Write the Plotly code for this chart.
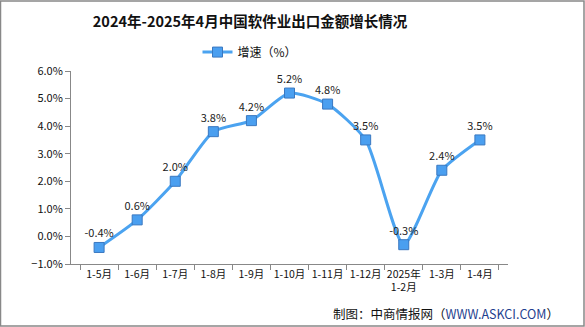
import plotly.graph_objects as go

categories = ["1-5月", "1-6月", "1-7月", "1-8月", "1-9月", "1-10月", "1-11月", "1-12月", "2025年<br>1-2月", "1-3月", "1-4月"]
growth = [-0.4, 0.6, 2.0, 3.8, 4.2, 5.2, 4.8, 3.5, -0.3, 2.4, 3.5]
labels = [f"{v:.1f}%" for v in growth]

FONT = "Noto Sans CJK SC"
fig = go.Figure()
fig.add_trace(go.Scatter(
    x=categories, y=growth, mode="lines+markers+text",
    name="增速（%）",
    line=dict(color="#4ba3f0", width=3, shape="spline", smoothing=0.6),
    marker=dict(symbol="square", size=10, color="#4a9ff0", line=dict(color="#3a78c0", width=1)),
    text=labels, textposition="top center",
    textfont=dict(family=FONT, size=11, color="#222"),
    cliponaxis=False,
))
fig.update_layout(
    width=585, height=327,
    margin=dict(l=71, r=77, t=71, b=63),
    paper_bgcolor="white", plot_bgcolor="white",
    title=dict(text="<b>2024年-2025年4月中国软件业出口金额增长情况</b>", x=250/585, xanchor="center",
               y=0.933, yanchor="middle", font=dict(family=FONT, size=14.5, color="#111")),
    showlegend=True,
    legend=dict(orientation="h", x=(250-71)/437, xanchor="center", y=1.098, yanchor="middle",
                font=dict(family=FONT, size=12, color="#111"), bgcolor="rgba(0,0,0,0)"),
    xaxis=dict(type="category", tickson="boundaries", ticks="outside", ticklen=5, tickangle=0,
               tickcolor="#888", showline=True, linecolor="#888", linewidth=1,
               showgrid=False, tickfont=dict(family=FONT, size=10.5, color="#111")),
    yaxis=dict(range=[-1, 6], dtick=1, tickformat=".1f", ticksuffix="%", ticks="outside",
               ticklen=5, tickcolor="#888", showline=True, linecolor="#888", linewidth=1,
               showgrid=False, zeroline=False, tickfont=dict(family=FONT, size=11, color="#111")),
    shapes=[dict(type="rect", xref="paper", yref="paper", x0=-70.5/437, x1=1+76/437,
                 y0=-62/193, y1=1+70/193, line=dict(color="#888", width=1.5))],
    annotations=[dict(text="制图：中商情报网（<span style='color:#1f3f8f'>WWW.ASKCI.COM</span>）",
                      xref="paper", yref="paper", x=(561-71)/437, xanchor="right",
                      y=-49/193, yanchor="middle", showarrow=False,
                      font=dict(family=FONT, size=12.5, color="#111"))],
)
fig.write_html("out.html")
